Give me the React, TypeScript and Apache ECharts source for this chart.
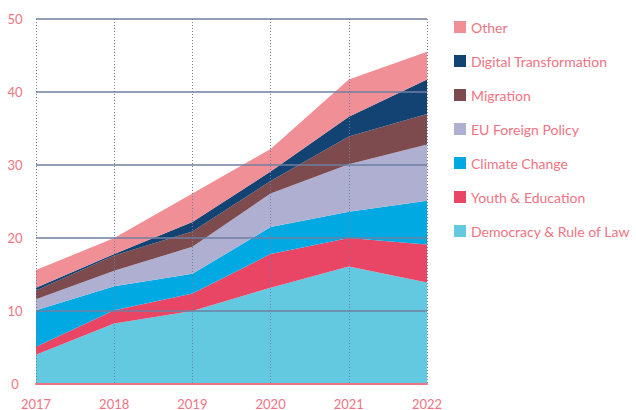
import React, { useEffect, useRef } from "react";
import * as echarts from "echarts";

const years = ["2017", "2018", "2019", "2020", "2021", "2022"];
const democracy = [4.0, 8.3, 10.0, 13.2, 16.1, 13.9];
const youth = [1.1, 1.8, 2.4, 4.6, 3.9, 5.2];
const climate = [5.0, 3.3, 2.7, 3.7, 3.6, 6.0];
const euForeign = [1.5, 2.1, 3.7, 4.6, 6.5, 7.7];
const migration = [1.2, 2.1, 2.1, 1.7, 3.8, 4.2];
const digital = [0.4, 0.2, 1.3, 1.3, 2.7, 4.7];
const other = [2.4, 2.2, 3.9, 3.1, 5.1, 3.8];

const seriesNames = [
  "Democracy & Rule of Law",
  "Youth & Education",
  "Climate Change",
  "EU Foreign Policy",
  "Migration",
  "Digital Transformation",
  "Other",
];
const seriesData = [democracy, youth, climate, euForeign, migration, digital, other];
const seriesColors = ["#62C9E0", "#E94666", "#00A9E2", "#AFAFD1", "#7D4A4E", "#124373", "#F08F95"];

const textColor = "#EF7383";
const gridColor = "#6F7FA2";

export default function App() {
  const ref = useRef<HTMLDivElement>(null);
  useEffect(() => {
    if (!ref.current) return;
    const chart = echarts.init(ref.current, undefined, { renderer: "svg" });
    chart.setOption({
      animation: false,
      textStyle: { fontFamily: "Lato" },
      grid: { left: 36, right: 209, top: 19, bottom: 24, containLabel: false },
      legend: {
        orient: "vertical",
        left: 449,
        top: 15,
        icon: "rect",
        itemWidth: 12,
        itemHeight: 12,
        itemGap: 20,
        data: [...seriesNames].reverse(),
        textStyle: { color: textColor, fontSize: 14, fontFamily: "Lato", lineHeight: 14 },
      },
      xAxis: {
        type: "category",
        data: years,
        boundaryGap: false,
        z: 10,
        axisLine: { show: true, lineStyle: { color: textColor, width: 2 } },
        axisTick: { show: false },
        axisLabel: { color: textColor, fontSize: 13, margin: 13, fontFamily: "Lato" },
        splitLine: { show: true, lineStyle: { color: gridColor, type: [1, 2], width: 1 } },
      },
      yAxis: {
        type: "value",
        min: 0,
        max: 50,
        interval: 10,
        z: 10,
        axisLine: { show: false },
        axisTick: { show: false },
        axisLabel: { color: textColor, fontSize: 13, margin: 21, align: "center", fontFamily: "Lato" },
        splitLine: { show: true, lineStyle: { color: gridColor, width: 1.5 } },
      },
      series: seriesNames.map((name, i) => ({
        name,
        type: "line",
        stack: "total",
        data: seriesData[i],
        symbol: "none",
        lineStyle: { width: 0 },
        areaStyle: { color: seriesColors[i], opacity: 1 },
        itemStyle: { color: seriesColors[i] },
      })),
    });
    return () => chart.dispose();
  }, []);
  return (
    <div
      ref={ref}
      style={{ position: "fixed", left: 0, top: 0, width: 636, height: 410, background: "#fff" }}
    />
  );
}
